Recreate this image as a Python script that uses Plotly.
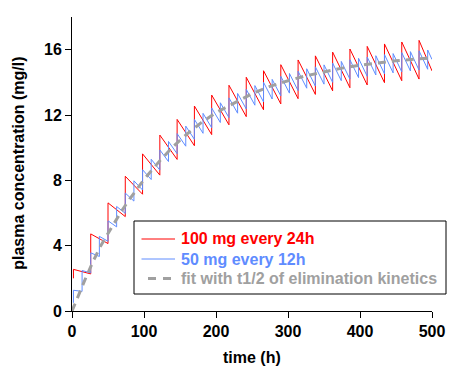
import plotly.graph_objects as go

# ---- data ----
# 100 mg every 24h (red): dose times, concentration just before each dose, just after each dose
red_dose_t = [2, 26, 50, 74, 98, 122, 146, 170, 194, 218, 242, 266, 290, 314, 338,
              362, 386, 410, 434, 458, 482]
red_before = [2.0, 2.27, 4.13, 5.78, 7.15, 8.32, 9.28, 10.12, 10.8, 11.4, 11.9, 12.32,
              12.68, 13.0, 13.26, 13.48, 13.67, 13.84, 13.98, 14.1, 14.2]
red_after = [2.55, 4.72, 6.62, 8.25, 9.62, 10.77, 11.73, 12.55, 13.22, 13.82, 14.31,
             14.71, 15.08, 15.37, 15.62, 15.85, 16.04, 16.2, 16.35, 16.47, 16.57]
red_end_t, red_end_v = 500, 14.7

# 50 mg every 12h (blue)
blue_dose_t = [2, 14, 26, 38, 50, 62, 74, 86, 98, 110, 122, 134, 146, 158, 170, 182,
               194, 206, 218, 230, 242, 254, 266, 278, 290, 302, 314, 326, 338, 350,
               362, 374, 386, 398, 410, 422, 434, 446, 458, 470, 482, 494]
blue_before = [0.5, 1.20, 2.33, 3.34, 4.27, 5.15, 5.98, 6.73, 7.41, 8.05, 8.63, 9.15,
               9.63, 10.09, 10.51, 10.88, 11.22, 11.54, 11.84, 12.11, 12.37, 12.6, 12.8,
               12.98, 13.17, 13.34, 13.49, 13.64, 13.77, 13.89, 14.0, 14.1, 14.2, 14.29,
               14.37, 14.45, 14.52, 14.58, 14.64, 14.7, 14.75, 14.8]
blue_after = [1.27, 2.48, 3.56, 4.57, 5.52, 6.40, 7.22, 7.97, 8.65, 9.29, 9.86, 10.38,
              10.86, 11.32, 11.73, 12.1, 12.43, 12.75, 13.05, 13.32, 13.57, 13.8, 14.0,
              14.18, 14.37, 14.54, 14.68, 14.83, 14.95, 15.07, 15.18, 15.28, 15.38,
              15.47, 15.55, 15.63, 15.7, 15.76, 15.82, 15.88, 15.93, 15.98]
blue_end_t, blue_end_v = 500, 15.4

# fit with t1/2 of elimination kinetics (gray dashed)
fit_t = [0, 10, 20, 30, 40, 50, 60, 70, 80, 90, 100, 120, 140, 160, 180, 200, 225,
         250, 275, 300, 325, 350, 375, 400, 425, 450, 475, 500]
fit_v = [0, 1.1, 2.12, 3.1, 4.0, 4.75, 5.5, 6.2, 6.85, 7.45, 8.05, 9.1, 10.05, 10.85,
         11.55, 12.15, 12.75, 13.3, 13.75, 14.1, 14.4, 14.65, 14.87, 15.05, 15.2, 15.32,
         15.42, 15.5]

series_names = ["100 mg every 24h", "50 mg every 12h",
                "fit with t1/2 of elimination kinetics"]
x_ticks = [0, 100, 200, 300, 400, 500]
y_ticks = [0, 4, 8, 12, 16]


def sawtooth(times, before, after, end_t, end_v):
    xs, ys = [], []
    for t, b, a in zip(times, before, after):
        xs += [t, t]
        ys += [b, a]
    xs.append(end_t)
    ys.append(end_v)
    return xs, ys


FONT = "Liberation Sans, Arial, sans-serif"
RED = "#ff0000"
BLUE = "#5f8cff"
GRAY = "#a0a0a0"
COLORS = [RED, BLUE, GRAY]

W, H = 452, 372
ML, MR, MT, MB = 72, 20, 17, 61
PW, PH = W - ML - MR, H - MT - MB


def px(xp):
    return (xp - ML) / PW


def py(yp):
    return (H - MB - yp) / PH


rx, ry = sawtooth(red_dose_t, red_before, red_after, red_end_t, red_end_v)
bx, by = sawtooth(blue_dose_t, blue_before, blue_after, blue_end_t, blue_end_v)

fig = go.Figure()
fig.add_trace(go.Scatter(x=rx, y=ry, mode="lines", line=dict(color=RED, width=1),
                         name=series_names[0], showlegend=False))
fig.add_trace(go.Scatter(x=bx, y=by, mode="lines", line=dict(color=BLUE, width=1),
                         name=series_names[1], showlegend=False))
fig.add_trace(go.Scatter(x=fit_t, y=fit_v, mode="lines",
                         line=dict(color=GRAY, width=3, dash="8px,6px"),
                         name=series_names[2], showlegend=False))

axis_common = dict(showline=True, linecolor="black", linewidth=1, ticks="outside",
                   ticklen=6, tickcolor="black", tickwidth=1, showgrid=False,
                   zeroline=False, mirror=False,
                   tickfont=dict(family=FONT, size=16, color="black", weight="bold"))

# hand-drawn legend box (matches the reference's tight row spacing)
row_y = [239, 259, 278.5]
shapes = [dict(type="rect", xref="paper", yref="paper", layer="above",
               x0=px(134), x1=px(446), y0=py(294), y1=py(221),
               line=dict(color="black", width=1), fillcolor="white")]
shapes.append(dict(type="line", xref="paper", yref="paper", layer="above",
                   x0=px(141.5), x1=px(175), y0=py(row_y[0]), y1=py(row_y[0]),
                   line=dict(color=RED, width=1)))
shapes.append(dict(type="line", xref="paper", yref="paper", layer="above",
                   x0=px(141.5), x1=px(175), y0=py(row_y[1]), y1=py(row_y[1]),
                   line=dict(color=BLUE, width=1)))
shapes.append(dict(type="line", xref="paper", yref="paper", layer="above",
                   x0=px(148), x1=px(172), y0=py(row_y[2]), y1=py(row_y[2]),
                   line=dict(color=GRAY, width=3, dash="8px,7px")))

annotations = [
    dict(text="time (h)", xref="paper", yref="paper", x=0.5, y=py(357),
         showarrow=False, xanchor="center", yanchor="middle",
         font=dict(family=FONT, size=16, color="black", weight="bold")),
    dict(text="plasma concentration (mg/l)", xref="paper", yref="paper",
         x=px(18.3), y=py(163.5), showarrow=False, textangle=-90,
         xanchor="center", yanchor="middle",
         font=dict(family=FONT, size=16, color="black", weight="bold")),
]
for name, col, yy in zip(series_names, COLORS, row_y):
    annotations.append(dict(text=name, xref="paper", yref="paper", x=px(179),
                            y=py(yy), showarrow=False, xanchor="left",
                            yanchor="middle",
                            font=dict(family=FONT, size=16, color=col, weight="bold")))

fig.update_layout(
    width=W, height=H,
    margin=dict(l=ML, r=MR, t=MT, b=MB, autoexpand=False),
    paper_bgcolor="white", plot_bgcolor="white",
    font=dict(family=FONT, size=16, color="black", weight="bold"),
    xaxis=dict(range=[0, 500], tickvals=x_ticks, **axis_common),
    yaxis=dict(range=[0, 18], tickvals=y_ticks, **axis_common),
    showlegend=False,
    shapes=shapes,
    annotations=annotations,
)

fig.write_html("out.html",
               config={"displayModeBar": False},
               post_script="document.body.style.margin='0';"
                           "document.body.style.padding='0';"
                           "document.body.style.overflow='hidden';")
